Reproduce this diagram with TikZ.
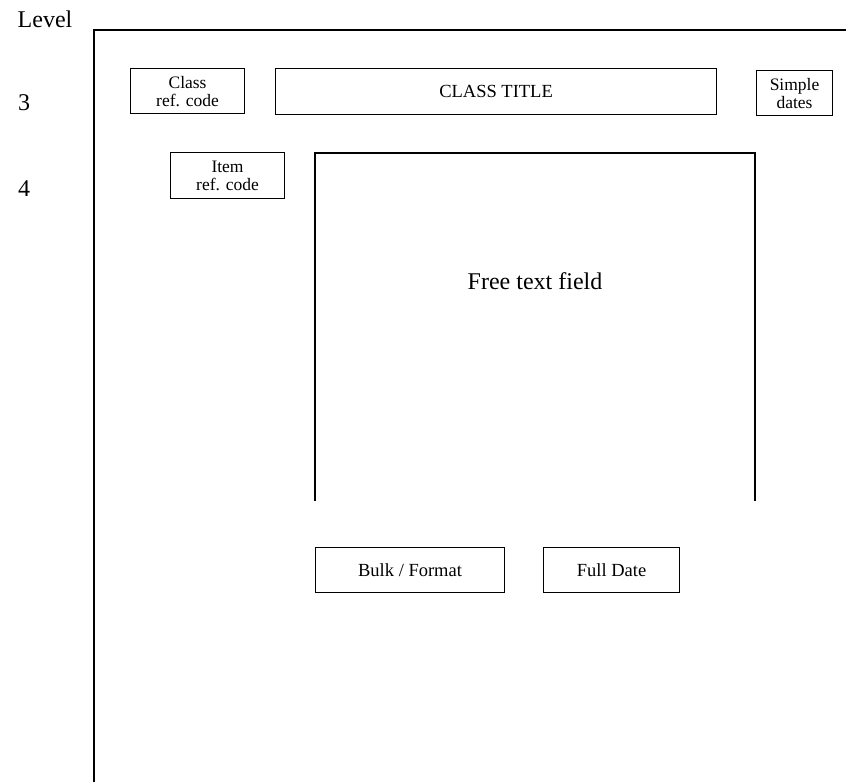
\documentclass[tikz,border=0pt]{standalone}
\usepackage{fontspec}
\setmainfont{Liberation Serif}
\begin{document}
\begin{tikzpicture}[x=1pt,y=-1pt,
  lbl/.style={inner sep=0pt,font=\fontsize{24}{24}\selectfont},
  field/.style={draw,line width=1.1pt,anchor=north west,inner sep=0pt,
    align=center,font=\fontsize{17.5}{18}\selectfont},
  bigfield/.style={field,font=\fontsize{18.5}{18}\selectfont},
  frame/.style={line width=1.4pt}]
\useasboundingbox (0,0) rectangle (846,782);
% level labels
\node[lbl] (level) at (45,19) {Level};
\node[lbl] (l3) at (24,103) {3};
\node[lbl] (l4) at (24,189) {4};
% outer frame
\coordinate (fb) at (94,782);
\coordinate (ftl) at (94,30);
\coordinate (ftr) at (846,30);
\draw[frame] (fb) -- (ftl) -- (ftr);
% level 3
\node[field,minimum width=114pt,minimum height=45pt] (classref) at (130,68) {Class\\ref. code};
\node[bigfield,minimum width=441pt,minimum height=46pt] (title) at (275,68) {CLASS TITLE};
\node[field,minimum width=76pt,minimum height=45pt] (dates) at (756,70) {Simple\\dates};
% level 4
\node[field,minimum width=114pt,minimum height=46pt] (itemref) at (170,152) {Item\\ref. code};
\coordinate (ftbl) at (315,501);
\coordinate (fttl) at (315,153);
\coordinate (fttr) at (755,153);
\coordinate (ftbr) at (755,501);
\draw[line width=1.1pt] (ftbl) -- (fttl) -- (fttr) -- (ftbr);
\node[lbl] (freetext) at (535,281) {Free text field};
\node[bigfield,minimum width=189pt,minimum height=45pt] (bulk) at (315,547) {Bulk / Format};
\node[bigfield,minimum width=136pt,minimum height=45pt] (fulldate) at (543,547) {Full Date};
\end{tikzpicture}
\end{document}
